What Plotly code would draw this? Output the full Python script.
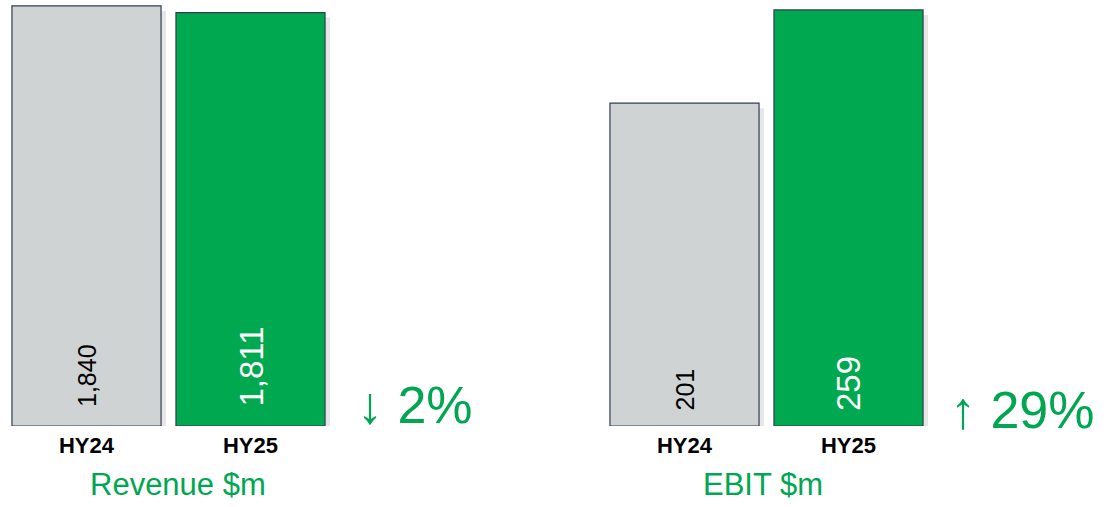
import plotly.graph_objects as go

periods = ["HY24", "HY25"]
revenue = [1840, 1811]
ebit = [201, 259]
revenue_labels = ["1,840", "1,811"]
ebit_labels = ["201", "259"]
revenue_change = "↓ 2%"
ebit_change = "↑ 29%"
panel_titles = ["Revenue $m", "EBIT $m"]

GREEN_TEXT = "#00A651"
BAR_COLORS = ["#D0D3D4", "#00A84F"]
LABEL_COLORS = ["#000000", "#FFFFFF"]
LABEL_SIZES = [25, 33]
OUTLINE = "#2E3D52"
FONT = "Liberation Sans, Arial, sans-serif"

W, H = 1116, 507
BOTTOM_PX = 426
PLOT_H = BOTTOM_PX
REV_MAX = 1866.0
EBIT_MAX = 265.2
BAR_W = 0.909
SHADOW_PX = 5

fig = go.Figure()


def add_panel(values, labels, xa, ya, ymax, lift):
    # soft drop shadow (same data, shifted a few pixels right/down)
    k = SHADOW_PX * ymax / PLOT_H
    fig.add_trace(go.Bar(
        x=periods, y=values, base=[-k] * len(values),
        width=BAR_W, offset=-BAR_W / 2 + SHADOW_PX / 164.0,
        marker=dict(color="rgba(90,90,90,0.15)", line=dict(width=0)),
        xaxis=xa, yaxis=ya, showlegend=False, cliponaxis=False, hoverinfo="skip",
    ))
    fig.add_trace(go.Bar(
        x=periods, y=values, width=BAR_W,
        marker=dict(color=BAR_COLORS, line=dict(color=OUTLINE, width=1.2)),
        xaxis=xa, yaxis=ya, showlegend=False, cliponaxis=False, hoverinfo="skip",
    ))
    for p, lab, size, col in zip(periods, labels, LABEL_SIZES, LABEL_COLORS):
        fig.add_annotation(
            x=p, y=0, xref=xa, yref=ya, text=lab, textangle=-90,
            xanchor="center", yanchor="bottom", yshift=lift, showarrow=False,
            font=dict(family=FONT, size=size, color=col),
        )


add_panel(revenue, revenue_labels, "x", "y", REV_MAX, 17)
add_panel(ebit, ebit_labels, "x2", "y2", EBIT_MAX, 13)

ydom = [(H - BOTTOM_PX) / H, 1.0]
axis_common = dict(showgrid=False, zeroline=False, showline=False, ticks="",
                   ticklabelstandoff=4,
                   tickfont=dict(family=FONT, size=22, color="#000000", weight="bold"))
fig.update_layout(
    width=W, height=H,
    margin=dict(l=0, r=0, t=0, b=0),
    paper_bgcolor="white", plot_bgcolor="white",
    barmode="overlay",
    xaxis=dict(domain=[4.5 / W, 332.5 / W], anchor="y", **axis_common),
    xaxis2=dict(domain=[602.5 / W, 930.5 / W], anchor="y2", **axis_common),
    yaxis=dict(domain=ydom, range=[0, REV_MAX], visible=False),
    yaxis2=dict(domain=ydom, range=[0, EBIT_MAX], visible=False, anchor="x2"),
)

ann = [
    dict(text=revenue_change, x=475, y=405, size=52, anchor="right"),
    dict(text=ebit_change, x=1097, y=409.5, size=52, anchor="right"),
    dict(text=panel_titles[0], x=177.5, y=484.5, size=31, anchor="center"),
    dict(text=panel_titles[1], x=762.5, y=484.5, size=31, anchor="center"),
]
for a in ann:
    fig.add_annotation(text=a["text"], x=a["x"] / W, y=(H - a["y"]) / H,
                       xref="paper", yref="paper",
                       xanchor=a["anchor"], yanchor="middle", showarrow=False,
                       font=dict(family=FONT, size=a["size"], color=GREEN_TEXT))

fig.write_html("out.html", config={"displayModeBar": False},
               post_script="document.body.style.margin='0';")
